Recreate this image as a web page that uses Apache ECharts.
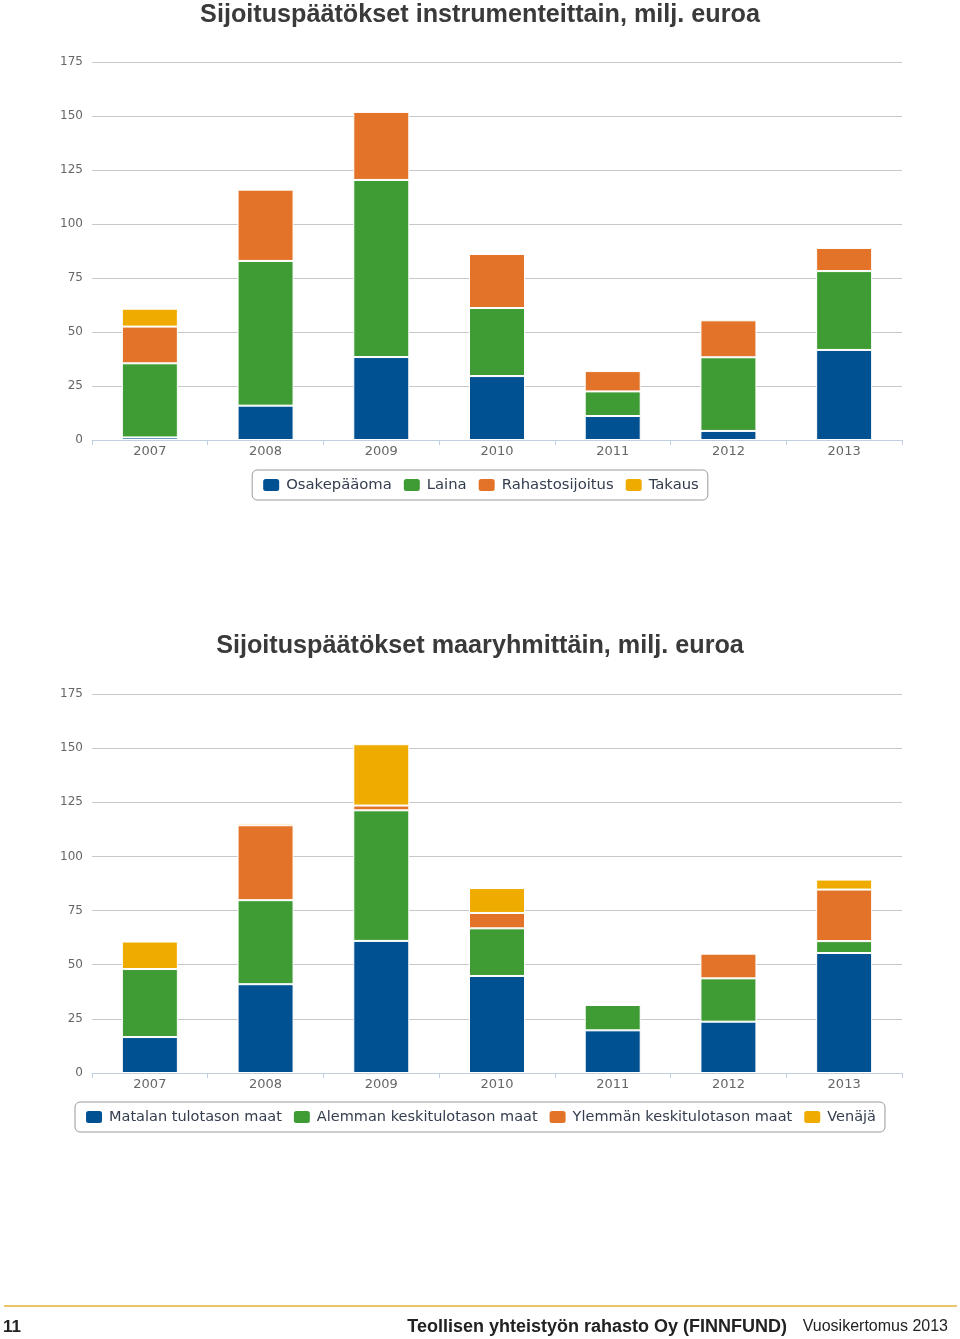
<!DOCTYPE html>
<html>
<head>
<meta charset="utf-8">
<script src="https://cdn.jsdelivr.net/npm/echarts@6/dist/echarts.min.js"></script>
<style>
html,body{margin:0;padding:0;background:#fff;}
#c{width:960px;height:1339px;}
</style>
</head>
<body>
<div id="c"></div>
<script>
const years = ['2007','2008','2009','2010','2011','2012','2013'];
const yTicks = [0, 25, 50, 75, 100, 125, 150, 175];

// Chart 1: by instrument
const title1 = 'Sijoituspäätökset instrumenteittain, milj. euroa';
const names1 = ['Osakepääoma', 'Laina', 'Rahastosijoitus', 'Takaus'];
const osakepaaoma = [1.2, 15.9, 38.4, 29.6, 11.1, 4.2, 41.7];
const laina       = [34.3, 67.0, 82.0, 31.5, 11.4, 34.1, 36.5];
const rahasto     = [17.0, 33.0, 31.5, 25.0, 9.4, 17.1, 10.7];
const takaus      = [8.3, 0, 0, 0, 0, 0, 0];

// Chart 2: by country group
const title2 = 'Sijoituspäätökset maaryhmittäin, milj. euroa';
const names2 = ['Matalan tulotason maat', 'Alemman keskitulotason maat', 'Ylemmän keskitulotason maat', 'Venäjä'];
const matala  = [16.6, 41.0, 61.0, 44.8, 19.7, 23.7, 55.4];
const alempi  = [31.4, 38.8, 60.3, 22.0, 11.7, 20.0, 5.5];
const ylempi  = [0, 34.6, 2.2, 7.1, 0, 11.4, 23.8];
const venaja  = [12.7, 1.0, 28.3, 11.5, 0, 0, 4.6];

const footerPage = '11';
const footerOrg = 'Teollisen yhteistyön rahasto Oy (FINNFUND)';
const footerDoc = 'Vuosikertomus 2013';

const colors = ['#005192', '#3f9c35', '#e27328', '#efab00'];

function mkSeries(names, arrs, idx) {
  return arrs.map((d, i) => ({
    name: names[i], type: 'bar', stack: 's' + idx,
    xAxisIndex: idx, yAxisIndex: idx,
    barWidth: 56,
    data: d.map(v => v === 0 ? null : v),
    itemStyle: { color: colors[i], borderColor: '#fff', borderWidth: 1 },
    emphasis: { disabled: true }
  }));
}

function xAx(idx) {
  return {
    type: 'category', gridIndex: idx, data: years,
    axisLine: { lineStyle: { color: '#c0d0e0', width: 1 } },
    axisTick: { show: true, alignWithLabel: false, length: 5, lineStyle: { color: '#c0d0e0' } },
    axisLabel: { color: '#666', fontFamily: 'DejaVu Sans', fontSize: 13, margin: 5 }
  };
}
function yAx(idx) {
  return {
    type: 'value', gridIndex: idx, min: yTicks[0], max: yTicks[yTicks.length - 1], interval: 25,
    axisLine: { show: false }, axisTick: { show: false },
    splitLine: { lineStyle: { color: '#c8c8c8', width: 1 } },
    axisLabel: { color: '#666', fontFamily: 'DejaVu Sans', fontSize: 12, margin: 9 }
  };
}
function legendCommon(fs) {
  return {
    orient: 'horizontal', icon: 'roundRect', itemWidth: 18, itemHeight: 14, itemGap: 10,
    borderColor: '#9a9a9a', borderWidth: 1, borderRadius: 5, padding: [7, 9, 7, 9],
    textStyle: { color: '#333d4d', fontFamily: 'DejaVu Sans', fontSize: fs, padding: [0, 0, 0, 1] },
    selectedMode: false
  };
}

const chart = echarts.init(document.getElementById('c'), null, { renderer: 'canvas' });
chart.setOption({
  animation: false,
  color: colors,
  title: [
    { text: title1, left: 'center', top: -2, textStyle: { fontFamily: 'Liberation Sans', fontWeight: 'bold', fontSize: 25.2, color: '#3a3a3a' } },
    { text: title2, left: 'center', top: 629, textStyle: { fontFamily: 'Liberation Sans', fontWeight: 'bold', fontSize: 25.2, color: '#3a3a3a' } }
  ],
  legend: [
    Object.assign(legendCommon(14.8), { data: names1, left: 'center', top: 470 }),
    Object.assign(legendCommon(14.5), { data: names2, left: 'center', top: 1102 })
  ],
  grid: [
    { left: 92, right: 58, top: 62, height: 378 },
    { left: 92, right: 58, top: 694, height: 379 }
  ],
  xAxis: [xAx(0), xAx(1)],
  yAxis: [yAx(0), yAx(1)],
  series: mkSeries(names1, [osakepaaoma, laina, rahasto, takaus], 0)
    .concat(mkSeries(names2, [matala, alempi, ylempi, venaja], 1)),
  graphic: [
    { type: 'line', shape: { x1: 4, y1: 1306, x2: 957, y2: 1306 }, style: { stroke: '#eac66a', lineWidth: 2 } },
    { type: 'text', left: 3, top: 1319, style: { text: footerPage, font: 'bold 17px "Liberation Sans"', fill: '#222' } },
    { type: 'text', right: 173, top: 1318, style: { text: footerOrg, font: 'bold 18px "Liberation Sans"', fill: '#222' } },
    { type: 'text', right: 12, top: 1319, style: { text: footerDoc, font: '16px "Liberation Sans"', fill: '#222' } }
  ]
});
</script>
</body>
</html>
